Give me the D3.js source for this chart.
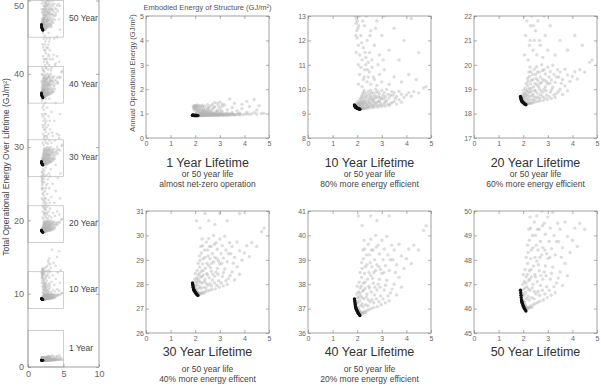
<!DOCTYPE html>
<html>
<head>
<meta charset="utf-8">
<script src="https://cdn.jsdelivr.net/npm/d3@7"></script>
<style>
body { margin: 0; background: #fff; }
svg { display: block; font-family: Arial, "Liberation Sans", sans-serif; }
</style>
</head>
<body>
<div id="chart"></div>
<script>
// lifetimes shown, and the lower end of each panel's y window
var lifetimes = [1, 10, 20, 30, 40, 50];
var yMins = [0, 8, 17, 26, 36, 45];
var subtitles = [
  ["or 50 year life", "almost net-zero operation"],
  ["or 50 year life", "80% more energy efficient"],
  ["or 50 year life", "60% more energy efficient"],
  ["or 50 year life", "40% more energy efficent"],
  ["or 50 year life", "20% more energy efficient"],
  []
];

// pareto front designs (black)
var frontEmbodied = [1.89, 1.90, 1.91, 1.92, 1.93, 1.94, 1.95, 1.97, 1.99, 2.01, 2.03, 2.05, 2.08, 2.11];
var frontAnnual   = [.935, .933, .931, .929, .927, .926, .925, .924, .923, .922, .921, .920, .919, .918];

// all other designs (grey): embodied energy and annual operational energy, GJ/m2
var embodied = [
  1.96, 1.98, 2.00, 2.02, 2.05, 2.08, 2.10, 2.13, 2.16, 2.19, 2.22, 2.26, 2.30, 2.35, 2.40, 2.48, 2.58, 2.68, 2.82, 2.98, 3.14, 3.30,
  1.98, 2.00, 2.02, 2.05, 2.08, 2.10, 2.12, 2.15, 2.18, 2.20, 2.22, 2.25, 2.28, 2.30, 2.33, 2.35, 2.40, 2.42, 2.45, 2.50, 2.55, 2.60, 2.65, 2.70, 2.75, 2.80, 2.90, 2.95, 3.00, 3.10, 3.20, 3.35, 3.50, 3.60, 3.70, 3.80,
  2.03, 2.07, 2.11, 2.14, 2.17, 2.21, 2.24, 2.27, 2.32, 2.37, 2.44, 2.47, 2.52, 2.57, 2.62, 2.67, 2.72, 2.78, 2.85, 2.88, 2.93, 3.05, 3.15, 3.25, 3.42,
  2.20, 2.25, 2.30, 2.40, 2.45, 2.50, 2.55, 2.60, 2.65, 2.70, 2.75, 2.80, 2.85, 2.90, 2.95, 3.00, 3.05, 3.10, 3.15, 3.20, 3.25, 3.30, 3.40, 3.45, 3.50, 3.60, 3.70, 3.80, 3.90, 4.00, 4.10, 4.20, 4.30, 4.50, 4.70,
  2.12, 2.18, 2.23, 2.28, 2.33, 2.38, 2.48, 2.53, 2.58, 2.68, 2.78, 2.88, 3.08, 3.35, 3.55,
  2.05, 2.10, 2.15, 2.20, 2.25, 2.30, 2.35, 2.40, 2.45, 2.50, 2.55, 2.60, 2.70, 2.80, 2.90, 3.00, 3.10, 3.30, 3.50, 3.80, 4.10, 4.40, 4.80,
  1.92, 1.94, 1.96, 1.99, 2.04, 2.06, 2.12, 2.18, 2.22, 2.28, 2.32, 2.38, 2.42, 2.52, 2.62, 2.66, 2.75, 2.85, 2.95, 3.05,
  1.95, 1.97, 1.98, 2.00, 2.01, 2.03, 2.05, 2.08, 2.10, 2.15, 2.20, 2.25, 2.30, 2.35, 2.40, 2.45, 2.50, 2.55, 2.60, 2.70, 2.80, 2.90, 3.00, 3.10, 3.30, 3.50, 3.70, 3.90, 4.20, 4.50,
  2.00, 2.10, 2.20, 2.30, 2.50, 2.70, 2.80, 2.90, 3.00, 3.10, 3.20, 3.40, 3.60, 3.90, 4.10, 4.40, 4.60
];
var annualOp = [
  .930, .932, .927, .926, .925, .923, .922, .921, .920, .921, .920, .921, .922, .921, .923, .924, .925, .926, .927, .929, .931, .933,
  .940, .948, .936, .942, .952, .933, .946, .938, .957, .930, .943, .951, .935, .961, .946, .929, .940, .955, .934, .946, .959, .934, .951, .939, .964, .944, .955, .938, .961, .944, .954, .941, .950, .939, .957, .947,
  .931, .937, .941, .928, .948, .936, .927, .944, .952, .937, .928, .948, .932, .942, .956, .931, .947, .935, .950, .932, .947, .935, .949, .938, .945,
  .966, .976, .986, .970, .991, .980, .996, .968, .985, .975, 1.000, .970, .990, .981, .965, .995, .975, .986, .969, .999, .980, .964, .990, .975, .985, .970, .991, .979, .966, .976, .986, .971, .990, .985, 1.005,
  .962, .972, .985, .995, .968, .980, .962, .972, .985, .962, .988, .968, .962, .975, .962,
  1.02, 1.06, 1.09, 1.01, 1.04, 1.08, 1.10, 1.03, 1.05, 1.07, 1.02, 1.09, 1.04, 1.015, 1.06, 1.03, 1.08, 1.02, 1.05, 1.03, 1.06, 1.04, 1.01,
  1.30, 1.22, 1.15, 1.33, 1.10, 1.26, 1.31, 1.19, 1.28, 1.05, 1.15, 1.30, 1.08, 1.22, 1.31, 1.05, 1.25, 1.10, 1.32, 1.12,
  1.27, 1.29, 1.24, 1.21, 1.28, 1.25, 1.18, 1.30, 1.14, 1.22, 1.12, 1.17, 1.26, 1.13, 1.20, 1.11, 1.15, 1.24, 1.12, 1.18, 1.28, 1.14, 1.22, 1.30, 1.16, 1.25, 1.12, 1.20, 1.29, 1.15,
  1.33, 1.35, 1.32, 1.34, 1.36, 1.38, 1.45, 1.42, 1.48, 1.40, 1.35, 1.60, 1.42, 1.38, 1.50, 1.58, 1.32
];

var cloud = embodied.map(function(e, k) { return { e: e, a: annualOp[k] }; });
var front = frontEmbodied.map(function(e, k) { return { e: e, a: frontAnnual[k] }; });

var width = 601;
var height = 386;

var svg = d3.select('#chart')
  .append('svg')
  .attr('width', width)
  .attr('height', height);

var axisColor = '#8a8a8a';
var labelColor = '#666';
var greyFill = '#b3b3b3';

function styleAxis(g, size) {
  g.select('.domain').remove();
  g.selectAll('.tick line').attr('stroke', axisColor).attr('stroke-width', 0.7);
  g.selectAll('.tick text').attr('fill', labelColor).style('font-size', size + 'px');
}

// ---------- small panels ----------
var panelLeft = [146, 308, 474];
var panelTop = [16, 211];
var panelW = 123, panelH = 122;
var titleY = [163, 352];
var subY = [[174, 184], [369, 379]];

lifetimes.forEach(function(n, i) {
  var col = i % 3, row = Math.floor(i / 3);
  var x0 = panelLeft[col], y0 = panelTop[row];

  var x = d3.scaleLinear().domain([0, 5]).range([x0, x0 + panelW]);
  var y = d3.scaleLinear().domain([yMins[i], yMins[i] + 5]).range([y0 + panelH, y0]);

  var g = svg.append('g');

  g.append('clipPath').attr('id', 'clip' + i)
    .append('rect')
    .attr('x', x0).attr('y', y0)
    .attr('width', panelW).attr('height', panelH);

  var pts = g.append('g').attr('clip-path', 'url(#clip' + i + ')');

  pts.selectAll('circle.grey')
    .data(cloud)
    .enter()
    .append('circle')
    .attr('class', 'grey')
    .attr('cx', function(d) { return x(d.e); })
    .attr('cy', function(d) { return y(d.a * n); })
    .attr('r', 1.7)
    .attr('fill', greyFill)
    .attr('fill-opacity', 0.45);

  pts.selectAll('circle.front')
    .data(front)
    .enter()
    .append('circle')
    .attr('class', 'front')
    .attr('cx', function(d) { return x(d.e); })
    .attr('cy', function(d) { return y(d.a * n); })
    .attr('r', 1.7)
    .attr('fill', '#111');

  g.append('g')
    .attr('transform', 'translate(0,' + (y0 + panelH) + ')')
    .call(d3.axisBottom(x).ticks(5).tickSizeInner(-3).tickSizeOuter(0).tickPadding(3))
    .call(styleAxis, 7);
  g.append('g')
    .attr('transform', 'translate(0,' + y0 + ')')
    .call(d3.axisTop(x).ticks(5).tickSizeInner(-3).tickSizeOuter(0).tickFormat(''))
    .call(styleAxis, 7);
  g.append('g')
    .attr('transform', 'translate(' + x0 + ',0)')
    .call(d3.axisLeft(y).ticks(5).tickSizeInner(-3).tickSizeOuter(0).tickPadding(2))
    .call(styleAxis, 7);
  g.append('g')
    .attr('transform', 'translate(' + (x0 + panelW) + ',0)')
    .call(d3.axisRight(y).ticks(5).tickSizeInner(-3).tickSizeOuter(0).tickFormat(''))
    .call(styleAxis, 7);

  g.append('rect')
    .attr('x', x0).attr('y', y0)
    .attr('width', panelW).attr('height', panelH)
    .attr('fill', 'none')
    .attr('stroke', axisColor)
    .attr('stroke-width', 0.8);

  var cx = x0 + panelW / 2;
  g.append('text')
    .attr('x', cx).attr('y', titleY[row])
    .attr('text-anchor', 'middle')
    .attr('dominant-baseline', 'central')
    .style('font-size', '12.5px')
    .attr('fill', '#333')
    .text(n + ' Year Lifetime');

  subtitles[i].forEach(function(s, k) {
    g.append('text')
      .attr('x', cx).attr('y', subY[row][k])
      .attr('text-anchor', 'middle')
      .attr('dominant-baseline', 'central')
      .style('font-size', '8.5px')
      .attr('fill', '#444')
      .text(s);
  });
});

// axis titles on the 1 year panel
svg.append('text')
  .attr('x', panelLeft[0] + panelW / 2).attr('y', 7)
  .attr('text-anchor', 'middle')
  .attr('dominant-baseline', 'central')
  .style('font-size', '7.5px')
  .attr('fill', '#555')
  .text('Embodied Energy of Structure (GJ/m\u00b2)');

svg.append('text')
  .attr('transform', 'translate(132,' + (panelTop[0] + panelH / 2 - 4) + ') rotate(-90)')
  .attr('text-anchor', 'middle')
  .attr('dominant-baseline', 'central')
  .style('font-size', '7.5px')
  .attr('fill', '#555')
  .text('Annual Operational Energy (GJ/m\u00b2)');

// ---------- tall overview panel ----------
var lx = d3.scaleLinear().domain([0, 10]).range([28, 99]);
var ly = d3.scaleLinear().domain([0, 50]).range([367, 0.5]);

var left = svg.append('g');

left.append('clipPath').attr('id', 'clipLeft')
  .append('rect')
  .attr('x', 28).attr('y', -20)
  .attr('width', 71).attr('height', 387);

var lpts = left.append('g').attr('clip-path', 'url(#clipLeft)');

lifetimes.forEach(function(n, i) {
  lpts.append('g').selectAll('circle')
    .data(cloud)
    .enter()
    .append('circle')
    .attr('cx', function(d) { return lx(d.e); })
    .attr('cy', function(d) { return ly(d.a * n); })
    .attr('r', 1.3)
    .attr('fill', greyFill)
    .attr('fill-opacity', 0.45);

  lpts.append('g').selectAll('circle')
    .data(front)
    .enter()
    .append('circle')
    .attr('cx', function(d) { return lx(d.e); })
    .attr('cy', function(d) { return ly(d.a * n); })
    .attr('r', 1.3)
    .attr('fill', '#111');

  left.append('rect')
    .attr('x', lx(0)).attr('y', ly(yMins[i] + 5))
    .attr('width', lx(5) - lx(0))
    .attr('height', ly(yMins[i]) - ly(yMins[i] + 5))
    .attr('fill', 'none')
    .attr('stroke', '#bbb')
    .attr('stroke-width', 0.7);

  left.append('text')
    .attr('x', 69).attr('y', ly(yMins[i] + 2.5) - 1)
    .attr('dominant-baseline', 'central')
    .style('font-size', '8.5px')
    .attr('fill', '#444')
    .text(n + ' Year');
});

left.append('g')
  .attr('transform', 'translate(0,367)')
  .call(d3.axisBottom(lx).tickValues([0, 5, 10]).tickSizeInner(-3).tickSizeOuter(0).tickPadding(4))
  .call(styleAxis, 9);
var leftAxis = left.append('g')
  .attr('transform', 'translate(28,0)')
  .call(d3.axisLeft(ly).tickValues([0, 10, 20, 30, 40, 50]).tickSizeInner(-3).tickSizeOuter(0).tickPadding(4))
  .call(styleAxis, 9);
// keep the top label inside the window
leftAxis.selectAll('.tick text')
  .filter(function(d) { return d === 50; })
  .attr('dy', '0.85em');
left.append('g')
  .attr('transform', 'translate(99,0)')
  .call(d3.axisRight(ly).tickValues([0, 10, 20, 30, 40, 50]).tickSizeInner(-3).tickSizeOuter(0).tickFormat(''))
  .call(styleAxis, 9);

left.append('path')
  .attr('d', 'M28,0V367H99V0')
  .attr('fill', 'none')
  .attr('stroke', axisColor)
  .attr('stroke-width', 0.8);

left.append('text')
  .attr('transform', 'translate(6,167) rotate(-90)')
  .attr('text-anchor', 'middle')
  .attr('dominant-baseline', 'central')
  .style('font-size', '8.5px')
  .attr('fill', '#444')
  .text('Total Operational Energy Over Lifetime (GJ/m\u00b2)');
</script>
</body>
</html>
